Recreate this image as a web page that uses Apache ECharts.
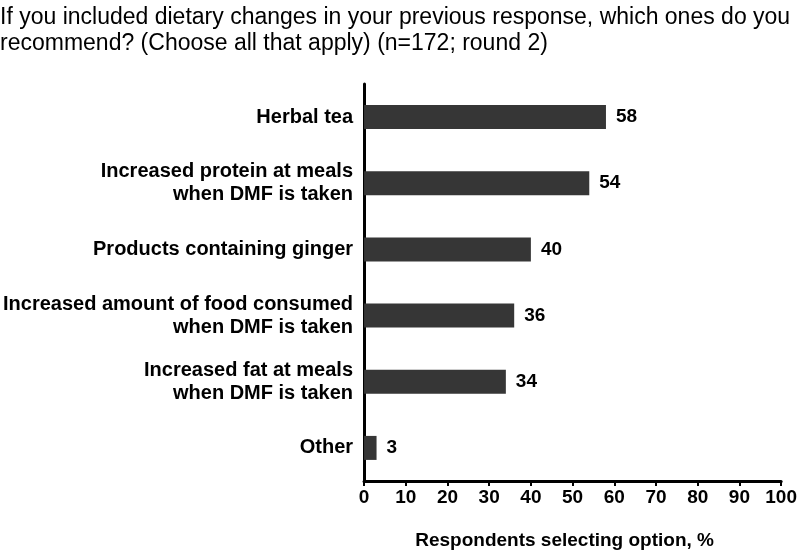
<!DOCTYPE html>
<html><head><meta charset="utf-8">
<script src="https://cdn.jsdelivr.net/npm/echarts@6/dist/echarts.min.js"></script>
<style>html,body{margin:0;padding:0;background:#fff}#c{width:800px;height:555px}</style>
</head><body><div id="c"></div>
<script>
var titleText = 'If you included dietary changes in your previous response, which ones do you\nrecommend? (Choose all that apply) (n=172; round 2)';
var categories = ['Herbal tea', 'Increased protein at meals\nwhen DMF is taken', 'Products containing ginger', 'Increased amount of food consumed\nwhen DMF is taken', 'Increased fat at meals\nwhen DMF is taken', 'Other'];
var values = [58, 54, 40, 36, 34, 3];
var xTicks = [0, 10, 20, 30, 40, 50, 60, 70, 80, 90, 100];
var xTitle = 'Respondents selecting option, %';

var font = '"Liberation Sans", Arial, Helvetica, sans-serif';
var chart = echarts.init(document.getElementById('c'), null, {renderer: 'canvas'});
chart.setOption({
  animation: false,
  backgroundColor: '#fff',
  title: {
    text: titleText, left: 0, top: 5, padding: 0,
    textStyle: {fontFamily: font, fontSize: 23, fontWeight: 'normal', color: '#000', lineHeight: 26}
  },
  grid: {left: 363, right: 16, top: 84, bottom: 73, containLabel: false},
  xAxis: {
    type: 'value', min: xTicks[0], max: xTicks[xTicks.length - 1], interval: 10,
    name: xTitle, nameLocation: 'middle', nameGap: 50,
    nameTextStyle: {fontFamily: font, fontSize: 19, fontWeight: 'bold', color: '#000', verticalAlign: 'top', padding: [0, 16, 0, 0]},
    axisLine: {show: true, lineStyle: {color: '#000', width: 3}},
    axisTick: {show: true, length: 5, lineStyle: {color: '#000', width: 2}},
    axisLabel: {fontFamily: font, fontSize: 19, fontWeight: 'bold', color: '#000', margin: 7},
    splitLine: {show: false}
  },
  yAxis: {
    type: 'category', data: categories, inverse: true,
    axisLine: {show: true, lineStyle: {color: '#000', width: 3}},
    axisTick: {show: false},
    axisLabel: {fontFamily: font, fontSize: 20, fontWeight: 'bold', color: '#000', margin: 11, lineHeight: 23, align: 'right'}
  },
  series: [{
    type: 'bar', data: values, barWidth: 24,
    itemStyle: {color: '#363636'},
    label: {show: true, position: 'right', distance: 10, fontFamily: font, fontSize: 19, fontWeight: 'bold', color: '#000'}
  }]
});
</script></body></html>
